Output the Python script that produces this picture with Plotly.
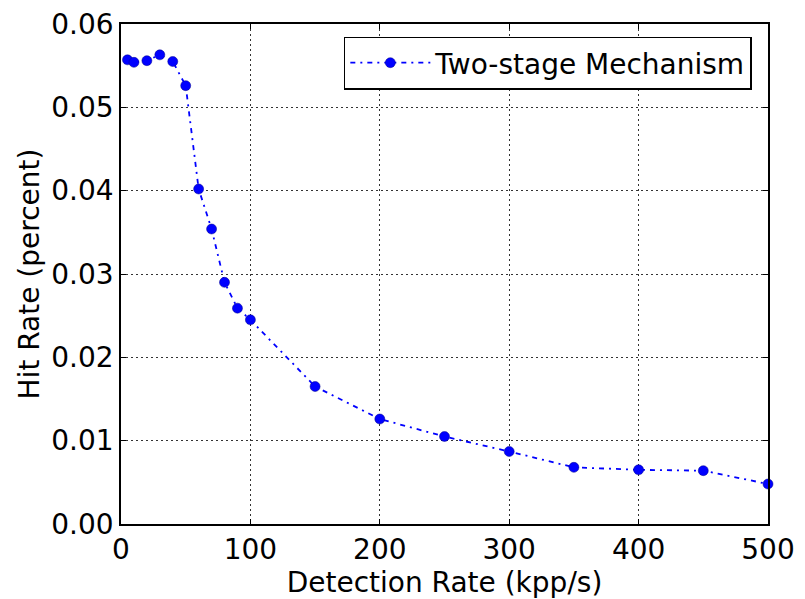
import plotly.graph_objects as go

detection_rate = [5, 10, 20, 30, 40, 50, 60, 70, 80, 90, 100, 150, 200, 250, 300, 350, 400, 450, 500]
hit_rate = [0.0557, 0.0554, 0.0556, 0.0563, 0.0555, 0.0526, 0.0402, 0.0354, 0.0290, 0.0259, 0.0245,
            0.0165, 0.0126, 0.0105, 0.0087, 0.0068, 0.0065, 0.0064, 0.0048]
x_ticks = [0, 100, 200, 300, 400, 500]
y_ticks = [0.00, 0.01, 0.02, 0.03, 0.04, 0.05, 0.06]

font = "DejaVu Sans"
fs = 28
fig = go.Figure()
fig.add_trace(go.Scatter(
    x=detection_rate, y=hit_rate, mode="lines+markers",
    name="Two-stage Mechanism",
    line=dict(color="#0000ff", width=1.8, dash="5px,5px,2px,5px"),
    marker=dict(color="#0000ff", size=10, line=dict(color="#00008b", width=0.5)),
    cliponaxis=False,
))
axis_common = dict(
    showgrid=True, gridcolor="#333333", griddash="2px,3px", gridwidth=0.6,
    showline=True, linecolor="black", linewidth=1.5, mirror="ticks",
    ticks="inside", ticklen=5, tickcolor="black", automargin=False,
    ticklabeloverflow="allow",
    zeroline=False, tickfont=dict(family=font, size=fs, color="black"),
)
fig.update_xaxes(range=[0, 500], tickvals=x_ticks, ticktext=[str(v) for v in x_ticks],
                 title=dict(text="Detection Rate (kpp/s)", font=dict(family=font, size=fs, color="black"), standoff=0),
                 **axis_common)
fig.update_yaxes(range=[0, 0.06], tickvals=y_ticks, ticktext=[f"{v:.2f}" for v in y_ticks],
                 title=dict(text="Hit Rate (percent)", font=dict(family=font, size=fs, color="black"), standoff=4),
                 **axis_common)
fig.update_layout(
    width=797, height=591,
    margin=dict(l=113, r=37, t=16, b=75, autoexpand=False),
    plot_bgcolor="white", paper_bgcolor="white",
    font=dict(family=font, size=fs, color="black"),
    legend=dict(x=0.975, y=0.975, xanchor="right", yanchor="top",
                bordercolor="black", borderwidth=1.5, bgcolor="white", itemwidth=80,
                font=dict(family=font, size=fs, color="black")),
    showlegend=True,
)
fig.write_html("out.html")
